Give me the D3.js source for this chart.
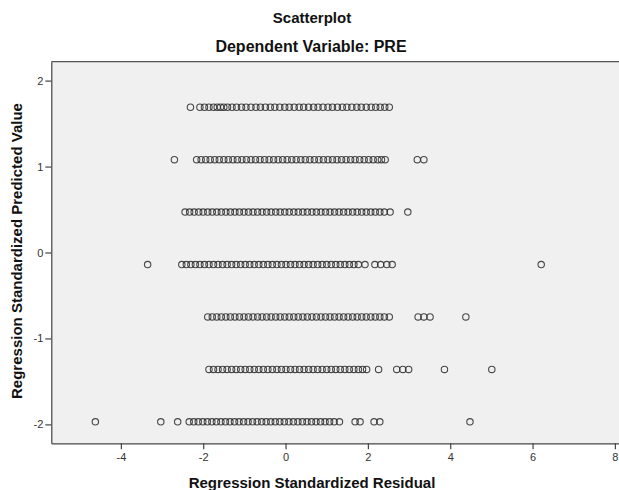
<!DOCTYPE html>
<html>
<head>
<meta charset="utf-8">
<script src="https://cdn.jsdelivr.net/npm/d3@7"></script>
<style>
  html, body { margin: 0; padding: 0; background: #fff; }
  text { font-family: "Liberation Sans", Arial, sans-serif; }
</style>
</head>
<body>
<div id="chart"></div>
<script>
// predicted value levels (y) and the residuals (x) sitting on each level
const predictedLevels = [1.69, 1.08, 0.47, -0.14, -0.75, -1.36, -1.97];

const residualsRow1 = [-2.31, -2.08, -1.97, -1.86, -1.75, -1.66, -1.58, -1.50, -1.41, -1.30, -1.19, -1.07,
  -0.96, -0.84, -0.72, -0.61, -0.49, -0.37, -0.26, -0.14, -0.02, 0.09, 0.21, 0.33, 0.44, 0.56, 0.68,
  0.79, 0.91, 1.03, 1.14, 1.26, 1.38, 1.49, 1.61, 1.73, 1.84, 1.96, 2.08, 2.19, 2.30, 2.41, 2.52];
const residualsRow2 = [-2.70, -2.16, -2.05, -1.94, -1.83, -1.72, -1.61, -1.50, -1.39, -1.28, -1.17, -1.06,
  -0.95, -0.84, -0.73, -0.62, -0.51, -0.40, -0.29, -0.18, -0.07, 0.04, 0.15, 0.26, 0.37, 0.48, 0.59,
  0.70, 0.81, 0.92, 1.03, 1.14, 1.25, 1.36, 1.47, 1.58, 1.69, 1.80, 1.91, 2.02, 2.13, 2.24, 2.33, 2.42,
  3.20, 3.36];
const residualsRow3 = [-2.44, -2.33, -2.22, -2.11, -2.00, -1.89, -1.78, -1.67, -1.56, -1.45, -1.34, -1.23,
  -1.12, -1.01, -0.90, -0.79, -0.68, -0.57, -0.46, -0.35, -0.24, -0.13, -0.02, 0.09, 0.20, 0.31, 0.42,
  0.53, 0.64, 0.75, 0.86, 0.97, 1.08, 1.19, 1.30, 1.41, 1.52, 1.63, 1.74, 1.85, 1.96, 2.07, 2.18, 2.29,
  2.40, 2.54, 2.97];
const residualsRow4 = [-3.35, -2.52, -2.41, -2.30, -2.19, -2.08, -1.97, -1.86, -1.75, -1.64, -1.53, -1.42,
  -1.31, -1.20, -1.09, -0.98, -0.87, -0.76, -0.65, -0.54, -0.43, -0.32, -0.21, -0.10, 0.01, 0.12, 0.23,
  0.34, 0.45, 0.56, 0.67, 0.78, 0.89, 1.00, 1.11, 1.22, 1.33, 1.44, 1.55, 1.66, 1.77, 1.93, 2.17, 2.31,
  2.46, 2.59, 6.21];
const residualsRow5 = [-1.89, -1.78, -1.67, -1.56, -1.45, -1.34, -1.23, -1.12, -1.01, -0.90, -0.79, -0.68,
  -0.57, -0.46, -0.35, -0.24, -0.13, -0.02, 0.09, 0.20, 0.31, 0.42, 0.53, 0.64, 0.75, 0.86, 0.97, 1.08,
  1.19, 1.30, 1.41, 1.52, 1.63, 1.74, 1.85, 1.96, 2.07, 2.18, 2.29, 2.40, 2.52, 3.22, 3.36, 3.51, 4.38];
const residualsRow6 = [-1.86, -1.75, -1.64, -1.53, -1.42, -1.31, -1.20, -1.09, -0.98, -0.87, -0.76, -0.65,
  -0.54, -0.43, -0.32, -0.21, -0.10, 0.01, 0.12, 0.23, 0.34, 0.45, 0.56, 0.67, 0.78, 0.89, 1.00, 1.11,
  1.22, 1.33, 1.44, 1.55, 1.66, 1.77, 1.87, 1.97, 2.26, 2.70, 2.85, 2.99, 3.86, 5.01];
const residualsRow7 = [-4.62, -3.03, -2.62, -2.34, -2.23, -2.12, -2.01, -1.90, -1.79, -1.68, -1.57, -1.46,
  -1.35, -1.24, -1.13, -1.02, -0.91, -0.80, -0.69, -0.58, -0.47, -0.36, -0.25, -0.14, -0.03, 0.08, 0.19,
  0.30, 0.41, 0.52, 0.63, 0.74, 0.85, 0.96, 1.07, 1.18, 1.31, 1.69, 1.81, 2.15, 2.29, 4.48];

const residualRows = [residualsRow1, residualsRow2, residualsRow3, residualsRow4,
  residualsRow5, residualsRow6, residualsRow7];

const xTicks = [-4, -2, 0, 2, 4, 6, 8];
const yTicks = [-2, -1, 0, 1, 2];

const width = 619;
const height = 490;
const plot = { left: 51.3, right: 619, top: 61.7, bottom: 443.3 };

const svg = d3
  .select('#chart')
  .append('svg')
  .attr('width', width)
  .attr('height', height);

const x = d3
  .scaleLinear()
  .domain([-5.69, 8.1])
  .range([plot.left, plot.right]);

const y = d3
  .scaleLinear()
  .domain([-2.22, 2.22])
  .range([plot.bottom, plot.top]);

// plot background
svg
  .append('rect')
  .attr('x', plot.left)
  .attr('y', plot.top)
  .attr('width', plot.right - plot.left)
  .attr('height', plot.bottom - plot.top)
  .attr('fill', '#f0f0f0');

svg
  .append('line')
  .attr('x1', plot.left)
  .attr('x2', plot.right)
  .attr('y1', plot.top)
  .attr('y2', plot.top)
  .attr('stroke', '#555')
  .attr('stroke-width', 1.2);

// points
const points = [];
residualRows.forEach((row, i) => {
  row.forEach(r => points.push({ x: r, y: predictedLevels[i] }));
});

svg
  .append('g')
  .selectAll('circle')
  .data(points)
  .enter()
  .append('circle')
  .attr('cx', d => x(d.x))
  .attr('cy', d => y(d.y))
  .attr('r', 3.2)
  .attr('fill', 'none')
  .attr('stroke', '#2a2a2a')
  .attr('stroke-opacity', 0.85)
  .attr('stroke-width', 1.1);

// axes (plain hyphen for negatives, as in the original)
const fmt = d => String(d);

const xAxis = svg
  .append('g')
  .attr('transform', `translate(0,${plot.bottom})`)
  .call(d3.axisBottom(x).tickValues(xTicks).tickFormat(fmt).tickSize(6).tickSizeOuter(0).tickPadding(4));

const yAxis = svg
  .append('g')
  .attr('transform', `translate(${plot.left},0)`)
  .call(d3.axisLeft(y).tickValues(yTicks).tickFormat(fmt).tickSize(6).tickSizeOuter(0).tickPadding(2));

[xAxis, yAxis].forEach(ax => {
  ax.select('.domain').attr('stroke', '#444').attr('stroke-width', 1.2);
  ax.selectAll('.tick line').attr('stroke', '#444').attr('stroke-width', 1.2);
  ax.selectAll('.tick text')
    .attr('fill', '#333')
    .style('font-size', '11px')
    .style('font-family', '"Liberation Sans", Arial, sans-serif');
});

// titles
svg
  .append('text')
  .attr('x', 312)
  .attr('y', 23)
  .attr('text-anchor', 'middle')
  .attr('font-weight', 'bold')
  .attr('font-size', 15)
  .attr('fill', '#111')
  .text('Scatterplot');

svg
  .append('text')
  .attr('x', 311)
  .attr('y', 52)
  .attr('text-anchor', 'middle')
  .attr('font-weight', 'bold')
  .attr('font-size', 16)
  .attr('fill', '#111')
  .text('Dependent Variable: PRE');

svg
  .append('text')
  .attr('x', 312)
  .attr('y', 488)
  .attr('text-anchor', 'middle')
  .attr('font-weight', 'bold')
  .attr('font-size', 15)
  .attr('fill', '#111')
  .text('Regression Standardized Residual');

svg
  .append('text')
  .attr('transform', 'translate(22,251) rotate(-90)')
  .attr('text-anchor', 'middle')
  .attr('font-weight', 'bold')
  .attr('font-size', 15)
  .attr('fill', '#111')
  .text('Regression Standardized Predicted Value');
</script>
</body>
</html>
